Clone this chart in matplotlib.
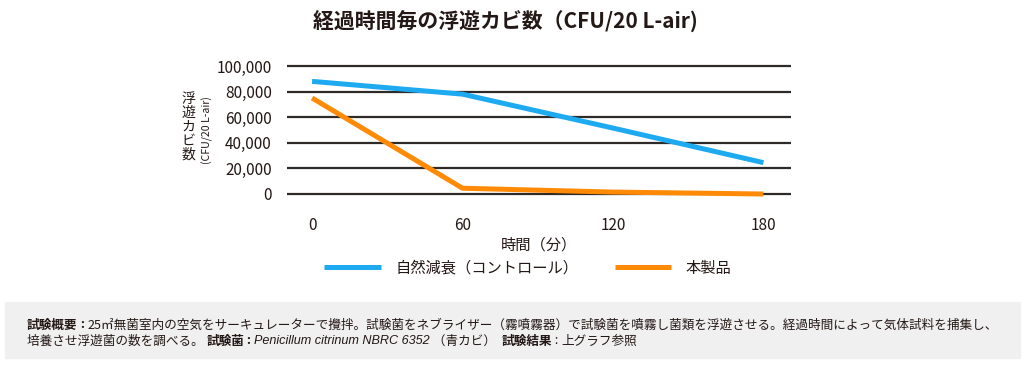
import matplotlib
matplotlib.use("Agg")
import matplotlib.pyplot as plt

plt.rcParams['font.family'] = ['Noto Sans CJK JP', 'DejaVu Sans']

# data
minutes = [0, 60, 120, 180]
control = [88000, 78000, 51500, 24500]
product = [75000, 4500, 1500, 0]
y_ticks = [0, 20000, 40000, 60000, 80000, 100000]
y_ticklabels = ["0", "20,000", "40,000", "60,000", "80,000", "100,000"]
series_names = ["自然減衰（コントロール）", "本製品"]

title = "経過時間毎の浮遊カビ数（CFU/20 L-air)"
xlabel = "時間（分）"

W, H = 1024, 365
fig = plt.figure(figsize=(W / 100, H / 100), dpi=100)

ax = fig.add_axes([287 / W, 1 - 200.4 / H, 504 / W, 140.8 / H])
l1, = ax.plot(minutes, control, color="#1eaaf0", lw=3.6, solid_capstyle="butt", zorder=3)
l2, = ax.plot(minutes, product, color="#ff8a05", lw=3.6, solid_capstyle="butt", zorder=3)

ax.set_xlim(-10, 191)
ax.set_ylim(-5000, 105000)
ax.set_yticks(y_ticks)
ax.set_yticklabels(y_ticklabels)
ax.set_xticks(minutes)
ax.tick_params(axis="both", length=0, labelsize=11, colors="#231815")
ax.tick_params(axis="y", pad=11)
ax.tick_params(axis="x", pad=12)
ax.yaxis.grid(True, color="#2e2a28", lw=1.6)
ax.set_axisbelow(True)
for s in ax.spines.values():
    s.set_visible(False)

ax.set_xlabel(xlabel, fontsize=11, labelpad=2, color="#231815")

fig.text(505 / W, 1 - 22 / H, title, ha="center", va="center",
         fontsize=15, fontweight="bold", color="#231815")

# vertical y label
fig.text(188 / W, 1 - 127 / H, "浮\n遊\nカ\nビ\n数", ha="center", va="center",
         fontsize=10, linespacing=0.98, color="#231815")
fig.text(207.5 / W, 1 - 130 / H, "(CFU/20 L-air)", ha="center", va="center",
         rotation=90, fontsize=7.6, color="#231815")

fig.legend([l1, l2], series_names, loc="center", bbox_to_anchor=(528 / W, 1 - 268 / H),
           ncol=2, frameon=False, fontsize=11, handlelength=3.7, handletextpad=0.95,
           columnspacing=2.4, borderpad=0, labelcolor="#231815")

# note box
fig.patches.append(plt.Rectangle((5 / W, 1 - 358 / H), 1015 / W, 56 / H,
                                 transform=fig.transFigure, color="#f0f0f0", zorder=0))

note_lines = [
    [("試験概要", "bold"), (" : ", "bold"), ("25㎡無菌室内の空気をサーキュレーターで攪拌。試験菌をネブライザー（霧噴霧器）で試験菌を噴霧し菌類を浮遊させる。経過時間によって気体試料を捕集し、", "normal")],
    [("培養させ浮遊菌の数を調べる。 ", "normal"), ("試験菌", "bold"), (" : ", "bold"),
     ("Penicillum citrinum NBRC 6352", "italic"), (" （青カビ）  ", "normal"),
     ("試験結果", "bold"), (" : ", "normal"), ("上グラフ参照", "normal")],
]
note_y = [325, 341]

renderer = fig.canvas.get_renderer()
for line, yy in zip(note_lines, note_y):
    x = 27
    for txt, style in line:
        kw = dict(fontsize=9.1, color="#231815", va="center", ha="left")
        if style == "bold":
            kw["fontweight"] = "bold"
        if style == "italic":
            kw["family"] = ["Liberation Sans"]
            kw["style"] = "italic"
        t = fig.text(x / W, 1 - yy / H, txt, **kw)
        x += t.get_window_extent(renderer).width

fig.savefig("out.png", dpi=100)
